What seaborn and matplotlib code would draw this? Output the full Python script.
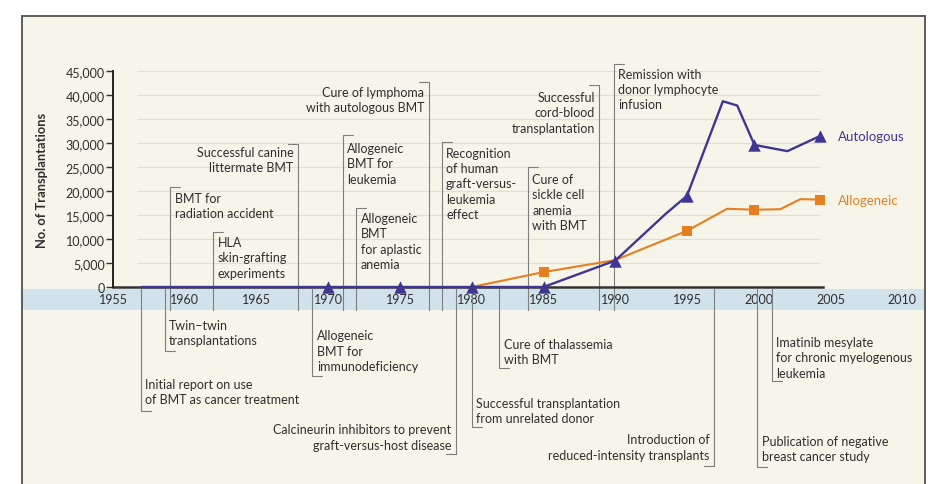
import matplotlib
matplotlib.use("Agg")
import matplotlib.pyplot as plt
import seaborn as sns
import pandas as pd
from matplotlib.patches import Rectangle
from matplotlib.lines import Line2D

# ---------------- data ----------------
auto_years = [1957, 1970, 1975, 1980, 1985, 1990, 1993.5, 1995, 1997.5, 1998.5, 1999.7, 2002, 2004.3]
auto_values = [0, 0, 0, 0, 0, 5500, 15200, 19000, 38700, 37800, 29600, 28300, 31500]
auto_marker_years = [1970, 1975, 1980, 1985, 1990, 1995, 1999.7, 2004.3]
auto_marker_values = [0, 0, 0, 0, 5500, 19000, 29600, 31500]

allo_years = [1980, 1985, 1990, 1995, 1997.8, 1999.7, 2001.5, 2002.9, 2004.3]
allo_values = [0, 3100, 5600, 11700, 16300, 16100, 16200, 18300, 18200]
allo_marker_years = [1985, 1995, 1999.7, 2004.3]
allo_marker_values = [3100, 11700, 16100, 18200]

series_names = ["Autologous", "Allogeneic"]
x_ticks = [1955, 1960, 1965, 1970, 1975, 1980, 1985, 1990, 1995, 2000, 2005, 2010]
y_ticks = [0, 5000, 10000, 15000, 20000, 25000, 30000, 35000, 40000, 45000]
y_tick_labels = ["0", "5,000", "10,000", "15,000", "20,000", "25,000", "30,000",
                 "35,000", "40,000", "45,000"]
y_label = "No. of Transplantations"

events_above_text = [
    "BMT for\nradiation accident",
    "HLA\nskin-grafting\nexperiments",
    "Successful canine\nlittermate BMT",
    "Allogeneic\nBMT for\nleukemia",
    "Allogeneic\nBMT\nfor aplastic\nanemia",
    "Cure of lymphoma\nwith autologous BMT",
    "Recognition\nof human\ngraft-versus-\nleukemia\neffect",
    "Cure of\nsickle cell\nanemia\nwith BMT",
    "Successful\ncord-blood\ntransplantation",
    "Remission with\ndonor lymphocyte\ninfusion",
]
events_above_year = [1959.0, 1962.0, 1967.9, 1971.0, 1971.95, 1977.0, 1977.9, 1983.9, 1988.9, 1989.9]

events_below_text = [
    "Initial report on use\nof BMT as cancer treatment",
    "Twin\u2013twin\ntransplantations",
    "Allogeneic\nBMT for\nimmunodeficiency",
    "Calcineurin inhibitors to prevent\ngraft-versus-host disease",
    "Successful transplantation\nfrom unrelated donor",
    "Cure of thalassemia\nwith BMT",
    "Introduction of\nreduced-intensity transplants",
    "Publication of negative\nbreast cancer study",
    "Imatinib mesylate\nfor chronic myelogenous\nleukemia",
]
events_below_year = [1956.95, 1958.6, 1968.9, 1978.9, 1980.0, 1981.9, 1996.9, 1999.9, 2000.9]

# ---------------- layout (pixels) ----------------
W, H = 929, 485
above_layout = [  # (line end y px, text center y px, side)
    (188, 206.5, "R"), (233, 258.5, "R"), (145, 160.5, "L"), (136, 164.5, "R"),
    (209, 242, "R"), (83, 100.5, "L"), (143, 184.5, "R"), (168, 203, "R"),
    (86, 113.5, "L"), (65, 90, "R"),
]
below_layout = [
    (412, 392.5, "R"), (352, 333.5, "R"), (377, 351.5, "R"), (455, 438, "L"),
    (428, 411.5, "R"), (369, 352.5, "R"), (467, 448, "L"), (468, 449.5, "R"),
    (382, 358.5, "R"),
]

AX_L, AX_R, AX_B, AX_T = 113, 916.6, 288, 72
X0, X1 = 1955, 2011
PX_PER_YEAR = (AX_R - AX_L) / (X1 - X0)
VAL_PER_PX = 45000 / (AX_B - AX_T)
BAND_TOP, BAND_BOT = 290, 311

purple = "#3f3592"
orange = "#e57f20"
text_col = "#2e2e2e"
line_col = "#7d7d7d"
bg = "#f7f5ea"

sns.set_style("white")
plt.rcParams["font.family"] = ["Lato", "DejaVu Sans"]
FS = 9.0

fig = plt.figure(figsize=(W / 100, H / 100), dpi=100)
fig.patch.set_facecolor("white")

# panel background
fig.add_artist(Rectangle((22 / W, -0.1), (925 - 22) / W, 1 - 17 / H + 0.1,
                         transform=fig.transFigure, facecolor=bg,
                         edgecolor="#5c5c5c", lw=1.4, zorder=-20))
# timeline band
fig.add_artist(Rectangle((23 / W, 1 - BAND_BOT / H), (924 - 23) / W, (BAND_BOT - BAND_TOP) / H,
                         transform=fig.transFigure, facecolor="#d2e2ec",
                         edgecolor="none", zorder=-10))

ax = fig.add_axes([AX_L / W, 1 - AX_B / H, (AX_R - AX_L) / W, (AX_B - AX_T) / H])
ax.set_facecolor("none")
ax.set_xlim(X0, X1)
ax.set_ylim(0, 45000)


def py(p):
    return (AX_B - p) * VAL_PER_PX


# grid lines
ax.hlines(y_ticks[1:], 1956.7, 2004.3, color="#e3dfd0", lw=0.9, zorder=0)

# series
sns.lineplot(x=auto_years, y=auto_values, color=purple, lw=1.7, ax=ax,
             estimator=None, sort=False, clip_on=False, zorder=4)
sns.lineplot(x=allo_years, y=allo_values, color=orange, lw=1.5, ax=ax,
             estimator=None, sort=False, clip_on=False, zorder=3)
sns.scatterplot(x=allo_marker_years, y=allo_marker_values, marker="s", s=55,
                color=orange, linewidth=0, ax=ax, clip_on=False, zorder=5)
sns.scatterplot(x=auto_marker_years, y=auto_marker_values, marker="^", s=80,
                color=purple, linewidth=0, ax=ax, clip_on=False, zorder=6)

ax.text(auto_years[-1] + 17 / PX_PER_YEAR, auto_values[-1], series_names[0],
        color=purple, fontsize=FS + 0.5, va="center", ha="left")
ax.text(allo_years[-1] + 17 / PX_PER_YEAR, allo_values[-1], series_names[1],
        color=orange, fontsize=FS + 0.5, va="center", ha="left")

# axes styling
for s in ["top", "right"]:
    ax.spines[s].set_visible(False)
ax.spines["left"].set_bounds(0, 45000)
ax.spines["left"].set_color("#222222")
ax.spines["left"].set_linewidth(1.4)
ax.spines["bottom"].set_bounds(1955, 2004.5)
ax.spines["bottom"].set_color("#333333")
ax.spines["bottom"].set_linewidth(1.8)
ax.spines["bottom"].set_zorder(2)

ax.set_yticks(y_ticks, y_tick_labels)
ax.set_xticks(x_ticks, [str(t) for t in x_ticks])
ax.tick_params(axis="y", length=5, width=1, color="#333333", labelsize=FS,
               labelcolor=text_col, pad=1, left=True)
ax.tick_params(axis="x", length=0, labelsize=FS, labelcolor=text_col, pad=4.5)
ax.set_ylabel(y_label, fontsize=FS + 0.3, fontweight="bold", color=text_col)
ax.yaxis.set_label_coords((48 - AX_L) / (AX_R - AX_L), 0.5)


def annotate(year, text, end_px, center_px, side, above):
    tick = 10 / PX_PER_YEAR
    gap = 4.5 / PX_PER_YEAR
    if above:
        y0, y1 = py(BAND_BOT), py(end_px)
    else:
        y0, y1 = py(BAND_TOP), py(end_px)
    kw = dict(color=line_col, lw=0.8, clip_on=False, zorder=1)
    ax.add_line(Line2D([year, year], [y0, y1], **kw))
    if side == "R":
        ax.add_line(Line2D([year, year + tick], [y1, y1], **kw))
        ax.text(year + gap, py(center_px), text, ha="left", va="center",
                fontsize=FS, color=text_col, linespacing=1.33, clip_on=False)
    else:
        ax.add_line(Line2D([year - tick, year], [y1, y1], **kw))
        ax.text(year - gap, py(center_px), text, ha="right", va="center",
                fontsize=FS, color=text_col, linespacing=1.33, clip_on=False,
                multialignment="right")


for yr, txt, (e, c, sd) in zip(events_above_year, events_above_text, above_layout):
    annotate(yr, txt, e, c, sd, True)
for yr, txt, (e, c, sd) in zip(events_below_year, events_below_text, below_layout):
    annotate(yr, txt, e, c, sd, False)

fig.savefig("out.png", dpi=100)
